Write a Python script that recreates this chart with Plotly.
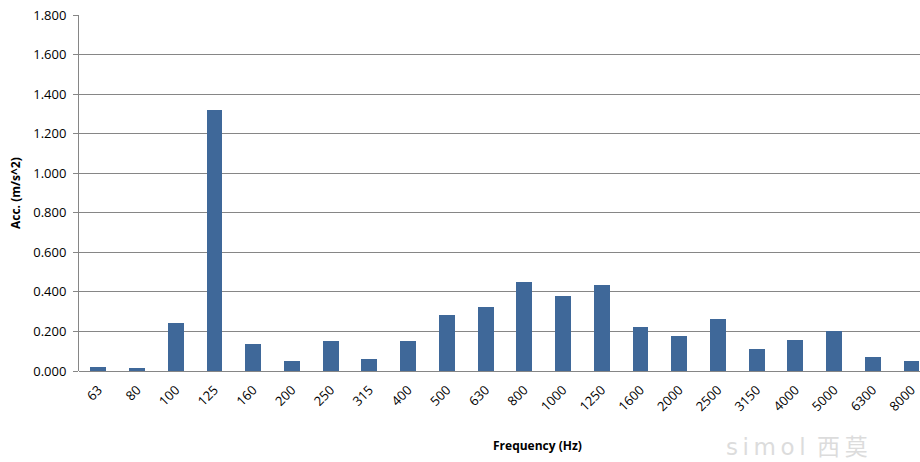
import plotly.graph_objects as go

categories = ["63", "80", "100", "125", "160", "200", "250", "315", "400", "500", "630",
              "800", "1000", "1250", "1600", "2000", "2500", "3150", "4000", "5000", "6300", "8000"]
values = [0.020, 0.015, 0.243, 1.320, 0.137, 0.050, 0.152, 0.060, 0.152, 0.283, 0.324,
          0.450, 0.380, 0.435, 0.222, 0.177, 0.263, 0.111, 0.157, 0.202, 0.071, 0.050]
y_ticks = [0.0, 0.2, 0.4, 0.6, 0.8, 1.0, 1.2, 1.4, 1.6, 1.8]

FONT = "Open Sans, Lato, sans-serif"
fig = go.Figure()
fig.add_trace(go.Bar(
    x=list(range(len(categories))), y=values,
    marker=dict(color="#3F6899", line=dict(width=0)),
    width=0.41,
))

fig.update_layout(
    width=920, height=462,
    margin=dict(l=79, r=0, t=15, b=91),
    paper_bgcolor="white", plot_bgcolor="white",
    showlegend=False,
    font=dict(family=FONT, size=13, color="#000000"),
    bargap=0,
)
fig.update_xaxes(
    range=[-0.5, 21.22],
    tickmode="array", tickvals=list(range(len(categories))), ticktext=categories,
    tickangle=-45, ticks="", showgrid=False,
    showline=False, zeroline=False,
    tickfont=dict(family=FONT, size=13, color="#000"),
    ticklabelstandoff=8,
)
fig.update_yaxes(
    range=[0, 1.8],
    tickmode="array", tickvals=y_ticks, ticktext=[f"{v:.3f}" for v in y_ticks],
    ticks="outside", ticklen=5, tickcolor="#868686", tickwidth=1,
    showgrid=True, gridcolor="#868686", gridwidth=1,
    showline=True, linecolor="#868686", linewidth=1,
    zeroline=True, zerolinecolor="#868686", zerolinewidth=1,
    tickfont=dict(family=FONT, size=13, color="#000"),
    ticklabelstandoff=4,
)

fig.add_annotation(
    text="<b>Acc. (m/s^2)</b>", textangle=-90,
    xref="paper", yref="paper", x=-79/841 + 15/841, y=0.50,
    xanchor="center", yanchor="middle", showarrow=False,
    font=dict(family=FONT, size=12, color="#000"),
)
fig.add_annotation(
    text="<b>Frequency (Hz)</b>",
    xref="paper", yref="paper", x=(537-79)/841, y=-(445-371)/356,
    xanchor="center", yanchor="middle", showarrow=False,
    font=dict(family=FONT, size=12, color="#000"),
)
fig.add_annotation(
    text="s\u2009i\u2009m\u2009o\u2009l\u2002西\u2009莫",
    xref="paper", yref="paper", x=(797-79)/841, y=-(447-371)/356,
    xanchor="center", yanchor="middle", showarrow=False,
    font=dict(family="DejaVu Sans, Noto Sans CJK SC", size=23, color="#dcdcdc"),
)

fig.write_html("out.html")
